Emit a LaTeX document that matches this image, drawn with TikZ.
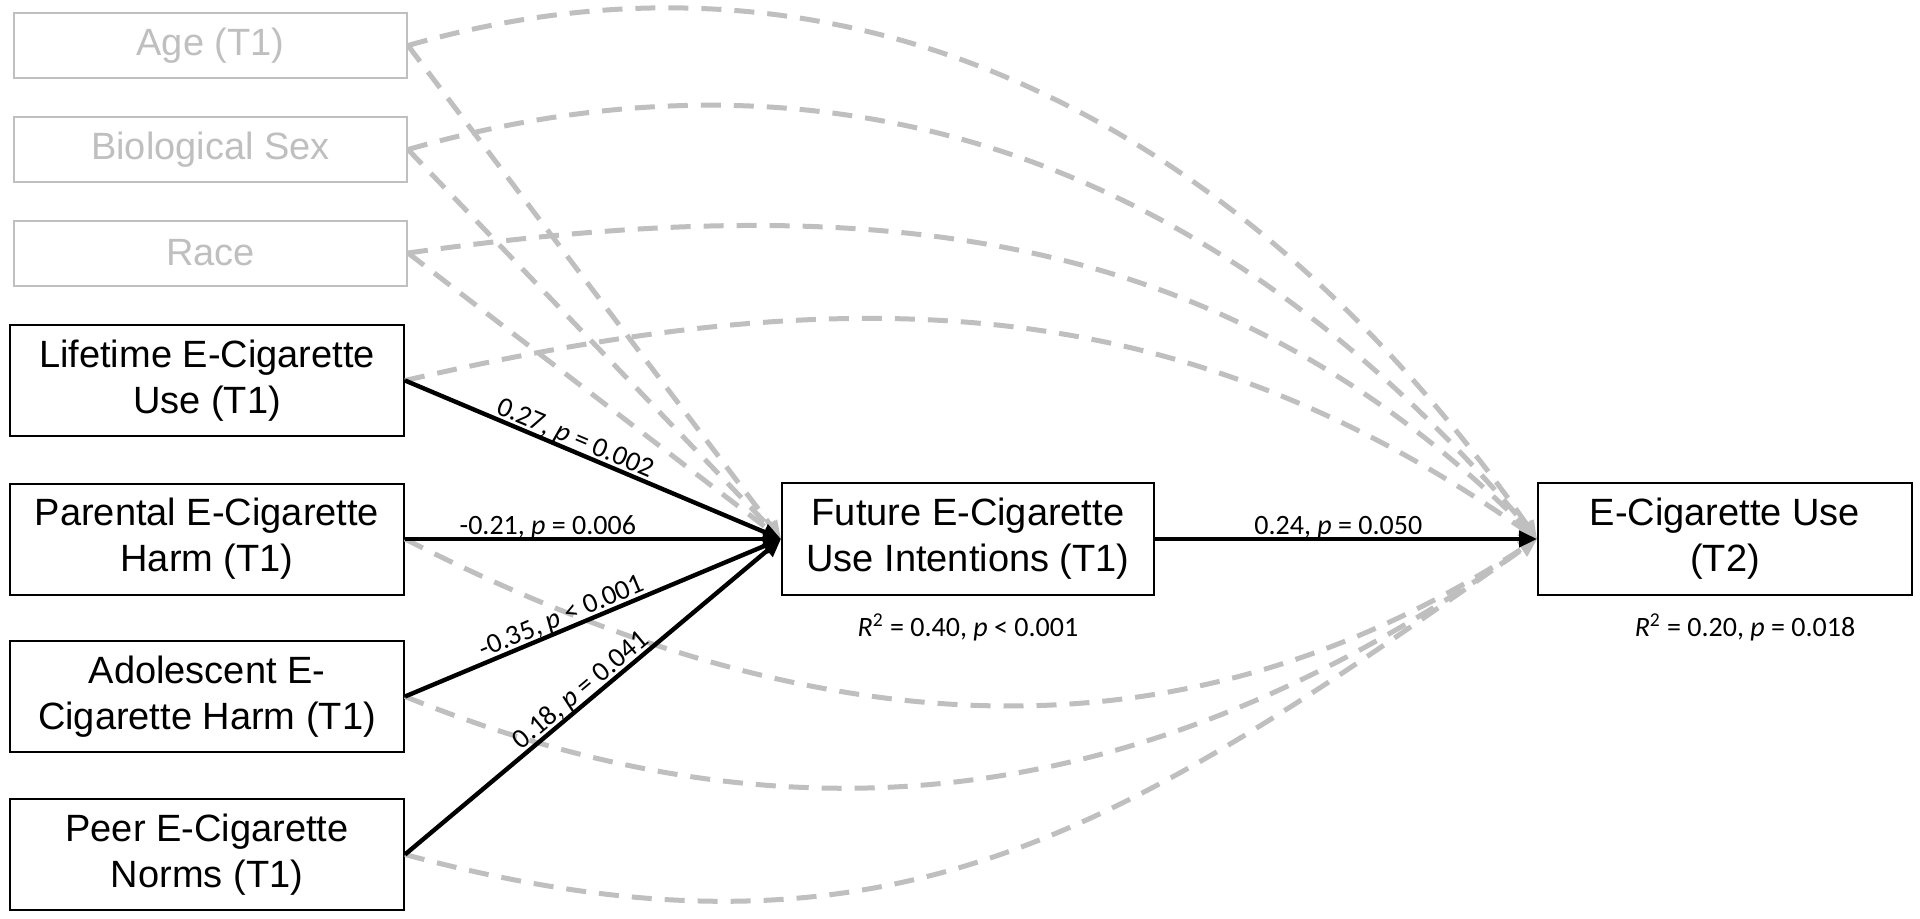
\documentclass[tikz,border=0pt]{standalone}
\usepackage{fontspec}
\setmainfont{Liberation Sans}
\newfontfamily\coeffont{Carlito}
\usetikzlibrary{arrows.meta,positioning}
\definecolor{covgray}{RGB}{191,191,191}

\begin{document}
\begin{tikzpicture}[x=0.5pt, y=0.5pt, >={Triangle[length=9pt, width=8pt]},
    box/.style={draw, line width=1pt, align=center, inner sep=2pt,
        minimum width=197pt, minimum height=55.5pt,
        font=\fontsize{19}{22.85}\selectfont},
    covbox/.style={box, draw=covgray, text=covgray,
        minimum width=196.5pt, minimum height=32.5pt},
    effect/.style={->, line width=2.2pt},
    covpath/.style={->, draw=covgray, line width=2.5pt,
        dash pattern=on 10pt off 6.5pt},
    coef/.style={font=\coeffont\fontsize{14}{16}\selectfont, inner sep=0pt,
        sloped, anchor=base, yshift=2.5pt},
    rsq/.style={font=\coeffont\fontsize{14}{16}\selectfont, inner sep=0pt}]
    \useasboundingbox (0,0) rectangle (1920,918);

    % Covariates
    \node[covbox] (age) at (210.5,872.5) {Age (T1)};
    \node[covbox] (sex) at (210.5,768.5) {Biological Sex};
    \node[covbox] (race) at (210.5,665) {Race};

    % Predictors
    \node[box] (lifetime) at (207,537.5) {Lifetime E-Cigarette\\Use (T1)};
    \node[box] (parental) at (207,379) {Parental E-Cigarette\\Harm (T1)};
    \node[box] (adolescent) at (207,221.5) {Adolescent E-\\Cigarette Harm (T1)};
    \node[box] (peer) at (207,63.5) {Peer E-Cigarette\\Norms (T1)};

    % Mediator and outcome
    \node[box, minimum width=186pt, minimum height=56pt] (future) at (968,379)
        {Future E-Cigarette\\Use Intentions (T1)};
    \node[box, minimum width=187pt, minimum height=56pt] (ecig) at (1725,379)
        {E-Cigarette Use\\(T2)};
    \node[rsq, below=8.5pt of future] (futurersq)
        {\textit{R}\textsuperscript{2} = 0.40, \textit{p} < 0.001};
    \node[rsq, below=8.5pt of ecig, xshift=10pt] (ecigrsq)
        {\textit{R}\textsuperscript{2} = 0.20, \textit{p} = 0.018};

    % Control paths (grey, dashed)
    \draw[covpath] (age.east) -- (future.west);
    \draw[covpath] (sex.east) -- (future.west);
    \draw[covpath] (race.east) -- (future.west);
    \draw[covpath] (age.east) to[out=16, in=125] (ecig.west);
    \draw[covpath] (sex.east) to[out=16, in=130] (ecig.west);
    \draw[covpath] (race.east) to[out=8, in=135] (ecig.west);
    \draw[covpath] (lifetime.east) to[out=13, in=145] (ecig.west);
    \draw[covpath] (parental.east) to[out=-27, in=-147] (ecig.west);
    \draw[covpath] (adolescent.east) to[out=-22, in=-145] (ecig.west);
    \draw[covpath] (peer.east) to[out=-15, in=-145, looseness=1.1] (ecig.west);

    % Significant paths
    \draw[effect] (lifetime.east) -- node[coef, pos=0.44] {0.27, \textit{p} = 0.002} (future.west);
    \draw[effect] (parental.east) -- node[coef, pos=0.38] {-0.21, \textit{p} = 0.006} (future.west);
    \draw[effect] (adolescent.east) -- node[coef, pos=0.43] {-0.35, \textit{p} < 0.001} (future.west);
    \draw[effect] (peer.east) -- node[coef, pos=0.49] {0.18, \textit{p} = 0.041} (future.west);
    \draw[effect] (future.east) -- node[coef, pos=0.48] {0.24, \textit{p} = 0.050} (ecig.west);
\end{tikzpicture}
\end{document}
